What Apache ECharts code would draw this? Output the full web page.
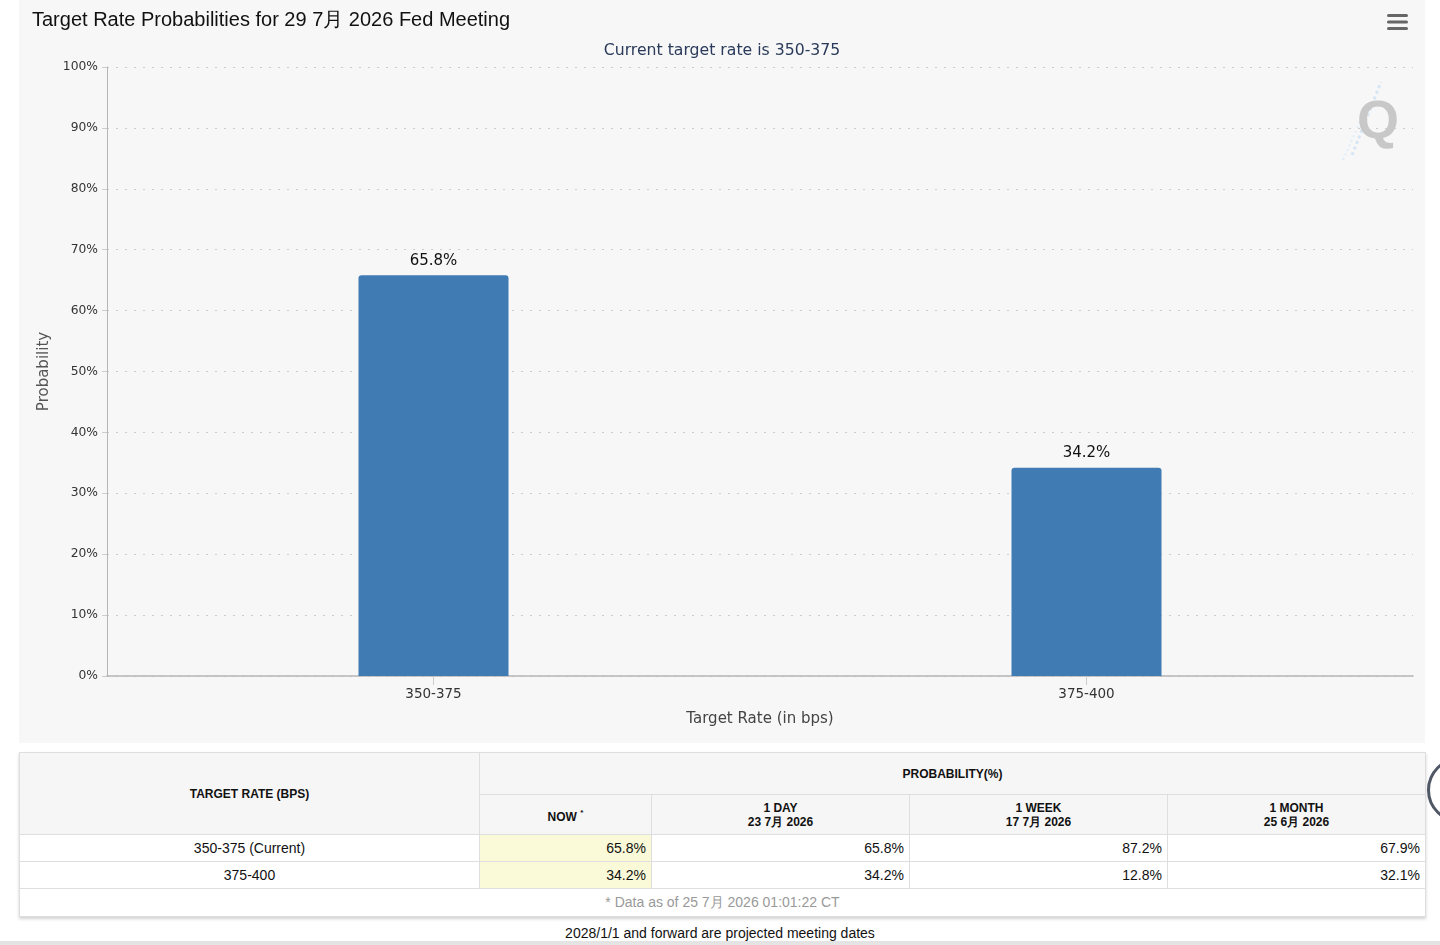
<!DOCTYPE html>
<html>
<head>
<meta charset="utf-8">
<script src="https://cdn.jsdelivr.net/npm/echarts@6/dist/echarts.min.js"></script>
<style>
  html, body { margin:0; padding:0; background:#fff; width:1440px; height:945px; overflow:hidden; position:relative; }
  #chart { position:absolute; left:19px; top:0; width:1406px; height:743px; background:#f7f7f7; }
  #tbl { position:absolute; left:19px; top:752px; width:1406px; border-collapse:collapse; table-layout:fixed;
         font-family:"Liberation Sans", Arial, sans-serif; box-shadow:0 2px 3px rgba(0,0,0,0.18); background:#fff; }
  #tbl td, #tbl th { border:1px solid #dedede; padding:0 5px; }
  #tbl th { background:#f6f6f6; font-size:12px; font-weight:bold; color:#111; text-align:center; line-height:14px; }
  #tbl td { font-size:14px; color:#111; height:26px; }
  #tbl td.rate { text-align:center; }
  #tbl td.num { text-align:right; }
  #tbl td.now { background:#fafad8; }
  #tbl td.foot { text-align:center; color:#999; height:27px; }
  #note { position:absolute; left:0; width:1440px; top:925px; text-align:center; font-family:"Liberation Sans", Arial, sans-serif; font-size:14px; color:#111; }
  #bottomline { position:absolute; left:0; top:941px; width:1440px; height:4px; background:#e4e4e4; }
  #circ { position:absolute; left:1427px; top:757px; width:60px; height:60px; border:3px solid #505865; border-radius:50%; }
</style>
</head>
<body>
<div id="chart"></div>
<table id="tbl"></table>
<div id="note"></div>
<div id="bottomline"></div>
<div id="circ"></div>
<script>
// ---- data ----
const categories = ['350-375', '375-400'];
const probabilities = [65.8, 34.2];
const yTickLabels = ['0%','10%','20%','30%','40%','50%','60%','70%','80%','90%','100%'];
const chartTitle = 'Target Rate Probabilities for 29 7月 2026 Fed Meeting';
const chartSubtitle = 'Current target rate is 350-375';

const tableRates = ['350-375 (Current)', '375-400'];
const nowVals = ['65.8%', '34.2%'];
const dayVals = ['65.8%', '34.2%'];
const weekVals = ['87.2%', '12.8%'];
const monthVals = ['67.9%', '32.1%'];
const colHeads = ['NOW', '1 DAY', '1 WEEK', '1 MONTH'];
const colDates = ['', '23 7月 2026', '17 7月 2026', '25 6月 2026'];
const footText = '* Data as of 25 7月 2026 01:01:22 CT';
const noteText = '2028/1/1 and forward are projected meeting dates';

// ---- chart ----
const chart = echarts.init(document.getElementById('chart'), null, { renderer: 'canvas' });
const axisFont = '"DejaVu Sans", sans-serif';
chart.setOption({
  backgroundColor: '#f7f7f7',
  animation: false,
  title: [
    { text: chartTitle, left: 8, top: 5,
      textStyle: { fontFamily: '"Liberation Sans", Arial, sans-serif', fontSize: 20, fontWeight: 'normal', color: '#111' } },
    { text: chartSubtitle, left: 'center', top: 38,
      textStyle: { fontFamily: axisFont, fontSize: 15.7, fontWeight: 'normal', color: '#2a3a5a' } }
  ],
  grid: { left: 88, right: 12, top: 67, bottom: 67 },
  xAxis: {
    type: 'category',
    data: categories,
    name: 'Target Rate (in bps)',
    nameLocation: 'middle',
    nameGap: 36,
    nameTextStyle: { fontFamily: axisFont, fontSize: 15, color: '#444' },
    axisLine: { lineStyle: { color: '#b5b5b5', width: 1.5 } },
    axisTick: { show: true, alignWithLabel: true, length: 9, lineStyle: { color: '#ccc' } },
    axisLabel: { fontFamily: axisFont, fontSize: 13.5, color: '#333', margin: 11 },
    splitLine: { show: false }
  },
  yAxis: {
    type: 'value',
    min: 0, max: 100, interval: 10,
    name: 'Probability',
    nameLocation: 'middle',
    nameRotate: 90,
    nameGap: 54,
    nameTextStyle: { fontFamily: axisFont, fontSize: 15, color: '#555' },
    axisLine: { show: true, lineStyle: { color: '#b5b5b5' } },
    axisTick: { show: true, length: 5, lineStyle: { color: '#ccc' } },
    axisLabel: { fontFamily: axisFont, fontSize: 12.3, color: '#333', margin: 9,
      formatter: function (v) { return yTickLabels[Math.round(v / 10)]; } },
    splitLine: { show: true, lineStyle: { color: '#cccccc', type: [2, 7], width: 1.2 } }
  },
  series: [{
    type: 'bar',
    data: probabilities,
    barWidth: 150,
    itemStyle: { color: '#417bb4', borderRadius: [3, 3, 0, 0] },
    label: { show: true, position: 'top', distance: 7, formatter: '{c}%',
      fontFamily: axisFont, fontSize: 15, color: '#111' }
  }],
  graphic: [
    { type: 'rect', left: 1368, top: 14, shape: { width: 21, height: 3, r: 1.5 }, style: { fill: '#666' } },
    { type: 'rect', left: 1368, top: 20.5, shape: { width: 21, height: 3, r: 1.5 }, style: { fill: '#666' } },
    { type: 'rect', left: 1368, top: 27, shape: { width: 21, height: 3, r: 1.5 }, style: { fill: '#666' } },
    { type: 'line', shape: { x1: 1333, y1: 155, x2: 1362, y2: 82 }, style: { stroke: '#d6e6f5', lineWidth: 3, lineDash: [3, 3] } },
    { type: 'line', shape: { x1: 1324, y1: 160, x2: 1350, y2: 102 }, style: { stroke: '#e1edf8', lineWidth: 2, lineDash: [2, 3] } },
    { type: 'text', left: 1338, top: 96,
      style: { text: 'Q', font: 'bold 54px "Liberation Sans", sans-serif', fill: '#c8c8c8' } }
  ]
});

// ---- table ----
const tbl = document.getElementById('tbl');
let html = '<colgroup><col style="width:460px"><col style="width:172px"><col style="width:258px"><col style="width:258px"><col style="width:258px"></colgroup>';
html += '<tr style="height:42px"><th rowspan="2">TARGET RATE (BPS)</th><th colspan="4">PROBABILITY(%)</th></tr>';
html += '<tr style="height:40px">';
colHeads.forEach(function (h, i) {
  if (i === 0) html += '<th>' + h + ' <sup style="font-size:8px;vertical-align:6px">*</sup></th>';
  else html += '<th>' + h + '<br>' + colDates[i] + '</th>';
});
html += '</tr>';
tableRates.forEach(function (r, i) {
  html += '<tr><td class="rate">' + r + '</td><td class="num now">' + nowVals[i] + '</td><td class="num">' + dayVals[i] +
    '</td><td class="num">' + weekVals[i] + '</td><td class="num">' + monthVals[i] + '</td></tr>';
});
html += '<tr><td class="foot" colspan="5">' + footText + '</td></tr>';
tbl.innerHTML = html;
document.getElementById('note').textContent = noteText;
</script>
</body>
</html>
